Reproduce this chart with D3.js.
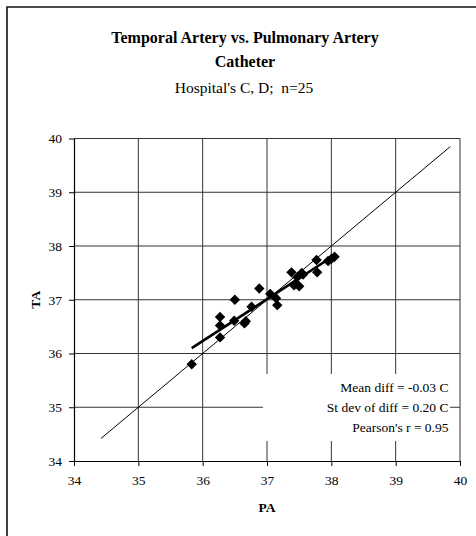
<!DOCTYPE html>
<html><head><meta charset="utf-8">
<script src="https://cdn.jsdelivr.net/npm/d3@7"></script>
<style>html,body{margin:0;background:#fff;overflow:hidden;}svg{display:block;}</style>
</head><body>
<svg id="chart" width="476" height="536"></svg>
<script>
const titleLines = ["Temporal Artery vs. Pulmonary Artery", "Catheter"];
const subtitle = "Hospital's C, D;  n=25";
const xLabel = "PA";
const yLabel = "TA";
const xTicks = [34, 35, 36, 37, 38, 39, 40];
const yTicks = [34, 35, 36, 37, 38, 39, 40];
const paValues = [35.83, 36.27, 36.27, 36.27, 36.49, 36.50, 36.65, 36.67, 36.76, 36.88,
                  37.05, 37.14, 37.16, 37.38, 37.45, 37.47, 37.50, 37.54, 37.56, 37.42,
                  37.77, 37.78, 37.95, 38.00, 38.05];
const taValues = [35.80, 36.30, 36.52, 36.68, 36.61, 37.00, 36.56, 36.60, 36.87, 37.21,
                  37.11, 37.03, 36.90, 37.51, 37.30, 37.42, 37.25, 37.50, 37.47, 37.27,
                  37.74, 37.51, 37.72, 37.76, 37.80];
const identityRange = [34.42, 39.85];
const statsLines = ["Mean diff = -0.03 C", "St dev of diff = 0.20 C", "Pearson's r = 0.95"];

const svg = d3.select("#chart");
const serif = "'Liberation Serif', 'Times New Roman', serif";

// outer frame (only left and top edges fall inside the picture)
svg.append("path").attr("d", "M7,560V7H560")
  .attr("fill", "none").attr("stroke", "#111").attr("stroke-width", 1.6);

const x = d3.scaleLinear().domain([34, 40]).range([74, 460]);
const y = d3.scaleLinear().domain([34, 40]).range([461, 138.5]);

// title
svg.append("text").attr("x", 245).attr("y", 43).attr("text-anchor", "middle")
  .attr("font-family", serif).attr("font-weight", "bold").attr("font-size", 16)
  .text(titleLines[0]);
svg.append("text").attr("x", 245).attr("y", 67).attr("text-anchor", "middle")
  .attr("font-family", serif).attr("font-weight", "bold").attr("font-size", 16)
  .text(titleLines[1]);
svg.append("text").attr("x", 244).attr("y", 93).attr("text-anchor", "middle")
  .attr("font-family", serif).attr("font-size", 15.5)
  .style("white-space", "pre")
  .text(subtitle);

// gridlines
const grid = svg.append("g");
grid.selectAll("line.v").data(xTicks.slice(1)).join("line")
  .attr("x1", d => x(d)).attr("x2", d => x(d)).attr("y1", y(34)).attr("y2", y(40))
  .attr("stroke", "#333").attr("stroke-width", 1);
grid.selectAll("line.h").data(yTicks.slice(1)).join("line")
  .attr("x1", x(34)).attr("x2", x(40)).attr("y1", d => y(d)).attr("y2", d => y(d))
  .attr("stroke", "#333").attr("stroke-width", 1);

// axes
const fmt = d3.format("d");
const xAxis = svg.append("g").attr("transform", `translate(0,${y(34)})`)
  .call(d3.axisBottom(x).tickValues(xTicks).tickFormat(fmt).tickSize(5).tickPadding(9).tickSizeOuter(0));
const yAxis = svg.append("g").attr("transform", `translate(${x(34)},0)`)
  .call(d3.axisLeft(y).tickValues(yTicks).tickFormat(fmt).tickSize(5).tickPadding(7).tickSizeOuter(0));
[xAxis, yAxis].forEach(a => {
  a.selectAll("path").attr("stroke", "#000").attr("stroke-width", 1.2);
  a.selectAll("line").attr("stroke", "#000");
  a.selectAll("text").attr("font-family", serif).attr("font-size", 13.5).attr("fill", "#000");
});

// identity line
svg.append("line")
  .attr("x1", x(identityRange[0])).attr("y1", y(identityRange[0]))
  .attr("x2", x(identityRange[1])).attr("y2", y(identityRange[1]))
  .attr("stroke", "#000").attr("stroke-width", 1);

// regression line (least squares)
const pts = paValues.map((v, i) => [v, taValues[i]]);
const mx = d3.mean(paValues), my = d3.mean(taValues);
const sxy = d3.sum(pts, p => (p[0] - mx) * (p[1] - my));
const sxx = d3.sum(pts, p => (p[0] - mx) ** 2);
const slope = sxy / sxx, icpt = my - slope * mx;
const [xmin, xmax] = d3.extent(paValues);
svg.append("line")
  .attr("x1", x(xmin)).attr("y1", y(icpt + slope * xmin))
  .attr("x2", x(xmax)).attr("y2", y(icpt + slope * xmax))
  .attr("stroke", "#000").attr("stroke-width", 2.6);

// markers
const diamond = d3.symbol(d3.symbolSquare, 54)();
svg.append("g").selectAll("path").data(pts).join("path")
  .attr("d", diamond)
  .attr("transform", d => `translate(${x(d[0])},${y(d[1])}) rotate(45)`)
  .attr("fill", "#000");

// stats box
svg.append("rect").attr("x", 263).attr("y", 374).attr("width", 187).attr("height", 67)
  .attr("fill", "#fff");
svg.append("g").selectAll("text").data(statsLines).join("text")
  .attr("x", 448.5).attr("y", (d, i) => 392 + i * 20)
  .attr("text-anchor", "end").attr("font-family", serif).attr("font-size", 13.5)
  .text(d => d);

// axis titles
svg.append("text").attr("x", (x(34) + x(40)) / 2).attr("y", 512).attr("text-anchor", "middle")
  .attr("font-family", serif).attr("font-weight", "bold").attr("font-size", 13.5).text(xLabel);
svg.append("text").attr("transform", `translate(40,${(y(34) + y(40)) / 2}) rotate(-90)`)
  .attr("text-anchor", "middle")
  .attr("font-family", serif).attr("font-weight", "bold").attr("font-size", 13.5).text(yLabel);
</script>
</body></html>
